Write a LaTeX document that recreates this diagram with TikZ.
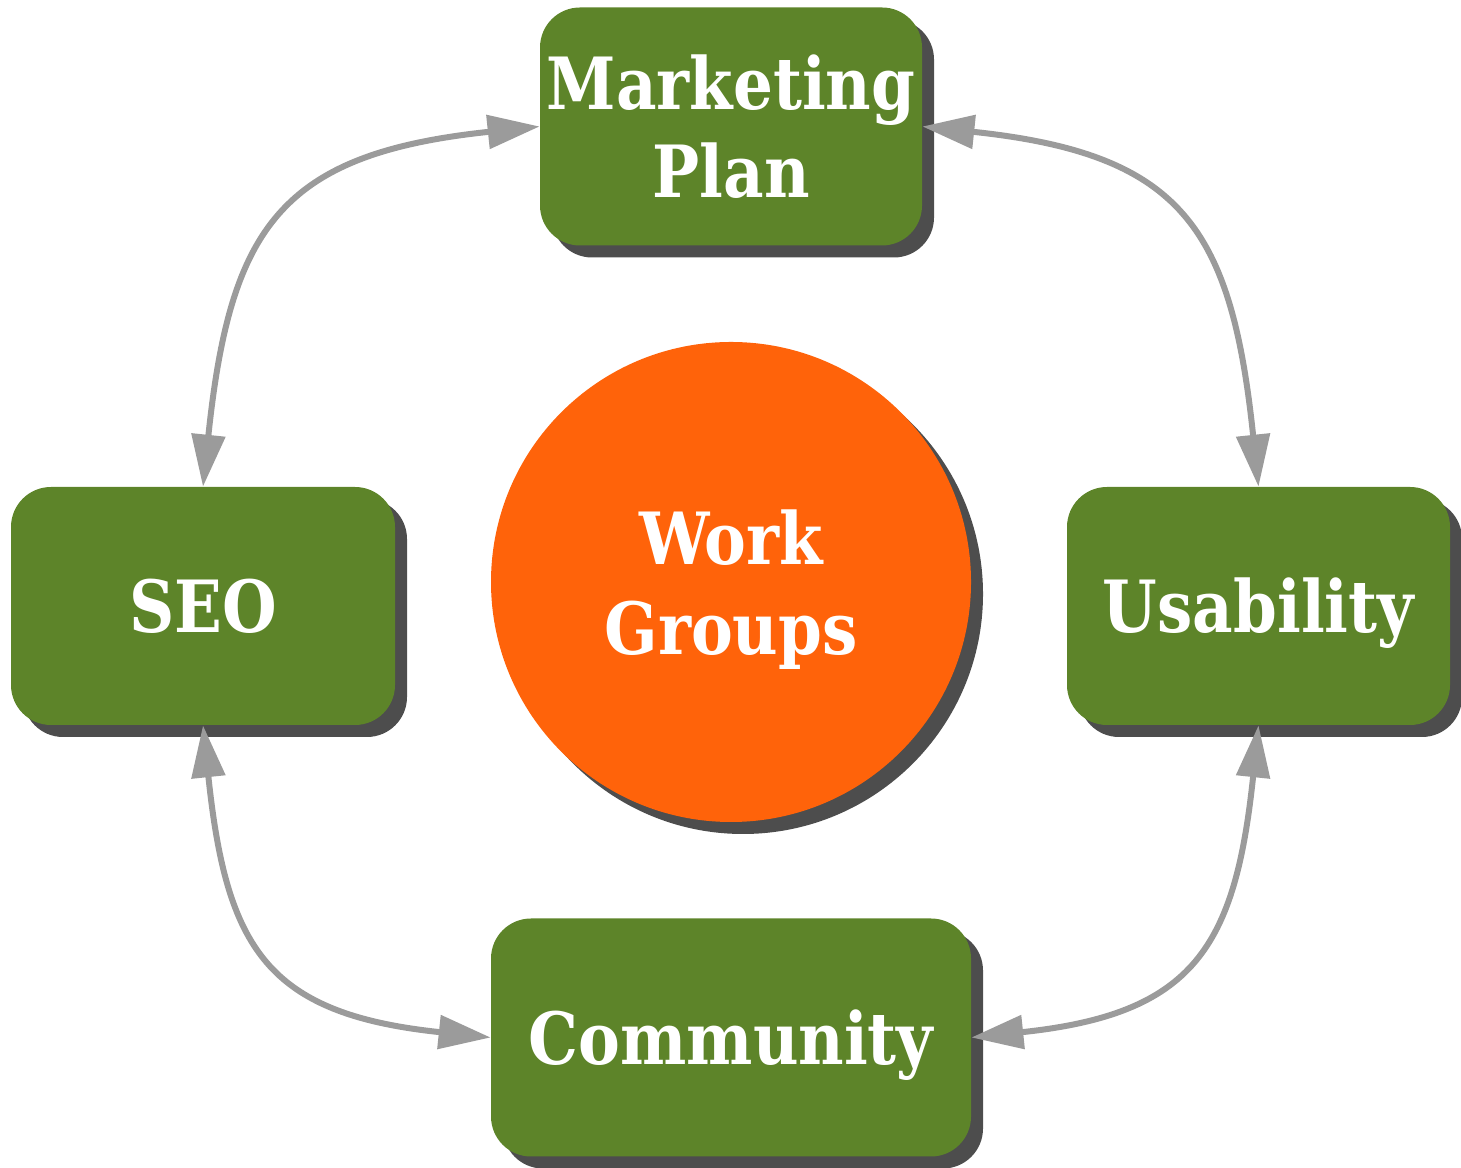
\documentclass[tikz,border=0pt]{standalone}
\usepackage{fontspec}
\newfontfamily\labelfont{DejaVu Serif}[FakeStretch=0.87]
\usepackage{xcolor}
\usepackage{tikz}
\usetikzlibrary{arrows.meta,shadows}
\definecolor{leafgreen}{HTML}{5D8429}
\definecolor{hotorange}{HTML}{FF630A}
\definecolor{shadowgray}{HTML}{4D4D4D}
\definecolor{linkgray}{HTML}{9B9B9B}
\tikzset{
  shd/.style={drop shadow={shadow xshift=0.24cm,shadow yshift=-0.24cm,fill=shadowgray,opacity=1}},
  grp/.style={rectangle,rounded corners=0.8cm,fill=leafgreen,text=white,align=center,inner sep=0pt,minimum height=4.76cm,font=\labelfont\bfseries\fontsize{41}{50}\selectfont,shd},
  one/.style={text height=1.34cm,text depth=0.26cm},
  hub/.style={circle,fill=hotorange,text=white,align=center,inner sep=0pt,minimum size=9.6cm,text depth=0cm,font=\labelfont\bfseries\fontsize{41}{51}\selectfont,shd},
  lnk/.style={{Triangle[length=1.04cm,width=0.66cm]}-{Triangle[length=1.04cm,width=0.66cm]},line width=0.12cm,linkgray,looseness=1.35}
}
\begin{document}
\begin{tikzpicture}
\useasboundingbox (0,0) rectangle (29.22,23.36);
% work groups
\node[hub] (work) at (14.62,11.72) {Work\\Groups};
\node[grp,minimum width=7.64cm] (plan) at (14.62,20.83) {Marketing\\Plan};
\node[grp,one,minimum width=7.68cm] (seo) at (4.06,11.24) {SEO};
\node[grp,one,minimum width=7.66cm] (usab) at (25.17,11.24) {Usability};
\node[grp,one,minimum width=9.6cm] (comm) at (14.62,2.61) {Community};
% links
\draw[lnk] (seo.north) to[out=84,in=186] (plan.west);
\draw[lnk] (plan.east) to[out=-6,in=96] (usab.north);
\draw[lnk] (seo.south) to[out=-84,in=174] (comm.west);
\draw[lnk] (usab.south) to[out=-96,in=6] (comm.east);
\end{tikzpicture}
\end{document}
